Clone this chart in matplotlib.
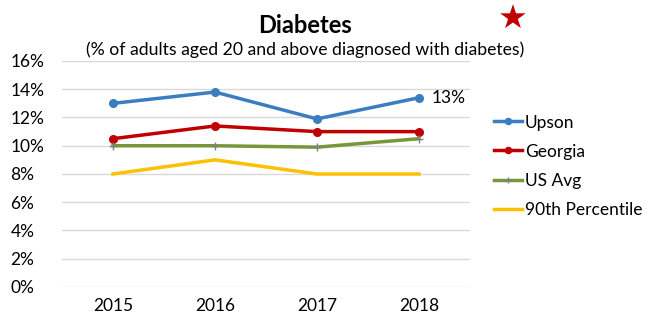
import numpy as np
import matplotlib.pyplot as plt

years = ["2015", "2016", "2017", "2018"]
upson = [13.0, 13.8, 11.9, 13.4]
georgia = [10.5, 11.4, 11.0, 11.0]
us_avg = [10.0, 10.0, 9.9, 10.5]
pct90 = [8.0, 9.0, 8.0, 8.0]
yticks = [0, 2, 4, 6, 8, 10, 12, 14, 16]

plt.rcParams['font.family'] = ['Lato', 'DejaVu Sans']

fig = plt.figure(figsize=(6.47, 3.22), dpi=100)
ax = fig.add_axes([0.0958, 0.1087, 0.6306, 0.7019])

x = np.arange(len(years))
ax.plot(x, upson, color="#3a7dc1", lw=2.5, marker="o", ms=5.5, label="Upson")
ax.plot(x, georgia, color="#c00000", lw=2.5, marker="o", ms=5.5, label="Georgia")
ax.plot(x, us_avg, color="#77973a", lw=2.5, marker="+", ms=6, mec="#808080",
        mew=1, label="US Avg")
ax.plot(x, pct90, color="#ffc000", lw=2.5, label="90th Percentile")

ax.text(x[-1] + 0.12, upson[-1], f"{upson[-1]:.0f}%", fontsize=12.5,
        va="center", ha="left")

ax.set_xlim(-0.5, 3.5)
ax.set_ylim(0, 16)
ax.set_xticks(x)
ax.set_xticklabels(years, fontsize=12.5)
ax.set_yticks(yticks)
ax.set_yticklabels([f"{v}%" for v in yticks], fontsize=12.5)
ax.tick_params(length=0, pad=8)
ax.tick_params(axis="y", pad=37)
for lbl in ax.get_yticklabels():
    lbl.set_horizontalalignment("left")
ax.grid(axis="y", color="#d9d9d9", lw=1)
ax.set_axisbelow(True)
for s in ax.spines.values():
    s.set_visible(False)

fig.text(0.472, 0.898, "Diabetes", fontsize=17, fontweight="bold", ha="center")
fig.text(0.472, 0.828, "(% of adults aged 20 and above diagnosed with diabetes)",
         fontsize=12.7, ha="center")
fig.text(0.792, 0.94, "\u2605", fontsize=24, color="#c00000", ha="center",
         va="center", family=["DejaVu Sans"])

leg = ax.legend(loc="center left", bbox_to_anchor=(1.02, 0.535), frameon=False,
                fontsize=12.5, handlelength=1.6, handletextpad=0.2,
                labelspacing=0.75, markerscale=0.8)

fig.savefig("out.png", dpi=100)
